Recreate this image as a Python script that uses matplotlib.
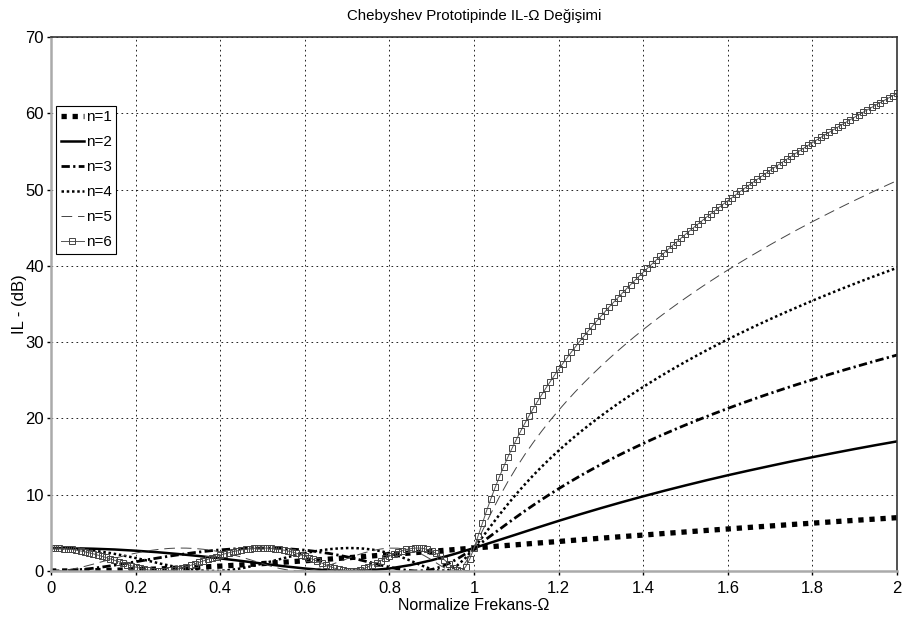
import numpy as np
import matplotlib
matplotlib.use("Agg")
import matplotlib.pyplot as plt
from matplotlib.ticker import FormatStrFormatter, MultipleLocator

# insertion loss (dB) of the Chebyshev prototype, 3 dB ripple, n = 1..6
omega_coarse = np.linspace(0, 2, 41)    # step 0.05 (n=1, n=2)
omega_mid = np.linspace(0, 2, 101)      # step 0.02 (n=3..5)
omega_fine = np.linspace(0, 2, 201)     # step 0.01 (n=6, marked)

il_n1 = [0.00, 0.01, 0.04, 0.10, 0.17, 0.26, 0.37, 0.50, 0.64, 0.80,
         0.97, 1.15, 1.34, 1.53, 1.73, 1.94, 2.15, 2.36, 2.58, 2.79,
         3.01, 3.23, 3.44, 3.66, 3.87, 4.09, 4.30, 4.51, 4.71, 4.92,
         5.12, 5.32, 5.51, 5.71, 5.90, 6.09, 6.27, 6.46, 6.64, 6.81,
         6.99]

il_n2 = [3.01, 2.99, 2.92, 2.82, 2.66, 2.47, 2.23, 1.96, 1.65, 1.32,
         0.97, 0.63, 0.33, 0.10, 0.00, 0.07, 0.33, 0.78, 1.41, 2.17,
         3.01, 3.90, 4.79, 5.69, 6.57, 7.42, 8.24, 9.03, 9.79, 10.52,
         11.22, 11.90, 12.55, 13.17, 13.77, 14.36, 14.92, 15.46, 15.99, 16.50,
         16.99]

il_n3 = [0.00, 0.02, 0.06, 0.14, 0.24, 0.36, 0.51, 0.67, 0.85, 1.03,
         1.21, 1.40, 1.59, 1.77, 1.95, 2.11, 2.27, 2.42, 2.55, 2.67,
         2.77, 2.85, 2.92, 2.97, 3.00, 3.01, 3.00, 2.97, 2.91, 2.83,
         2.73, 2.61, 2.45, 2.28, 2.07, 1.85, 1.60, 1.33, 1.05, 0.77,
         0.51, 0.27, 0.10, 0.01, 0.03, 0.20, 0.51, 0.98, 1.57, 2.25,
         3.01,
         3.81, 4.63, 5.45, 6.27, 7.07, 7.86, 8.62, 9.36, 10.08, 10.78,
         11.46, 12.11, 12.75, 13.36, 13.96, 14.54, 15.11, 15.66, 16.19, 16.71,
         17.22, 17.72, 18.20, 18.68, 19.14, 19.59, 20.03, 20.47, 20.89, 21.31,
         21.72, 22.12, 22.51, 22.90, 23.28, 23.65, 24.02, 24.38, 24.73, 25.08,
         25.43, 25.77, 26.10, 26.43, 26.75, 27.07, 27.39, 27.70, 28.00, 28.31]

il_n4 = [3.01, 3.00, 2.98, 2.89, 2.79, 2.67, 2.52, 2.35, 2.15, 1.93,
         1.70, 1.46, 1.21, 0.95, 0.71, 0.49, 0.29, 0.14, 0.04, 0.00,
         0.02, 0.11, 0.26, 0.46, 0.70, 0.97, 1.25, 1.54, 1.82, 2.09,
         2.33, 2.55, 2.73, 2.87, 2.96, 3.01, 3.00, 2.93, 2.80, 2.60,
         2.33, 1.99, 1.58, 1.11, 0.64, 0.23, 0.01, 0.13, 0.71, 1.71,
         3.01,
         4.45, 5.92, 7.37, 8.76, 10.09, 11.34, 12.54, 13.67, 14.75, 15.78,
         16.76, 17.71, 18.61, 19.48, 20.32, 21.13, 21.92, 22.68, 23.41, 24.13,
         24.82, 25.50, 26.16, 26.80, 27.43, 28.04, 28.64, 29.23, 29.80, 30.36,
         30.91, 31.45, 31.98, 32.50, 33.01, 33.51, 34.00, 34.48, 34.96, 35.43,
         35.89, 36.34, 36.79, 37.23, 37.66, 38.09, 38.51, 38.92, 39.33, 39.74]

il_n5 = [0.00, 0.04, 0.17, 0.36, 0.61, 0.90, 1.21, 1.51, 1.81, 2.09,
         2.34, 2.56, 2.73, 2.87, 2.96, 3.01, 3.00, 2.95, 2.85, 2.70,
         2.51, 2.26, 1.98, 1.66, 1.32, 0.97, 0.63, 0.34, 0.12, 0.01,
         0.02, 0.17, 0.44, 0.79, 1.19, 1.61, 2.02, 2.38, 2.67, 2.89,
         3.00, 2.99, 2.85, 2.55, 2.09, 1.46, 0.73, 0.12, 0.10, 1.11,
         3.01,
         5.28, 7.56, 9.71, 11.70, 13.54, 15.25, 16.84, 18.33, 19.73, 21.06,
         22.32, 23.53, 24.68, 25.78, 26.84, 27.87, 28.86, 29.81, 30.74, 31.64,
         32.51, 33.36, 34.19, 34.99, 35.78, 36.55, 37.30, 38.03, 38.75, 39.45,
         40.14, 40.81, 41.47, 42.12, 42.76, 43.39, 44.00, 44.61, 45.20, 45.79,
         46.36, 46.93, 47.49, 48.04, 48.58, 49.11, 49.64, 50.16, 50.67, 51.17]

il_n6 = [3.01, 3.00, 2.98, 2.94, 2.89, 2.82, 2.73, 2.63, 2.52, 2.39,
         2.25, 2.10, 1.94, 1.77, 1.59, 1.41, 1.22, 1.04, 0.85, 0.68,
         0.51, 0.37, 0.24, 0.13, 0.06, 0.01, 0.00, 0.02, 0.07, 0.16,
         0.27, 0.41, 0.57, 0.74, 0.93, 1.12, 1.32, 1.52, 1.71, 1.90,
         2.07, 2.24, 2.39, 2.53, 2.65, 2.76, 2.85, 2.92, 2.97, 3.00,
         3.01, 3.00, 2.97, 2.91, 2.84, 2.74, 2.62, 2.49, 2.33, 2.15,
         1.95, 1.73, 1.51, 1.27, 1.03, 0.80, 0.58, 0.38, 0.21, 0.09,
         0.02, 0.00, 0.05, 0.16, 0.33, 0.55, 0.80, 1.08, 1.37, 1.66,
         1.95, 2.21, 2.45, 2.65, 2.82, 2.93, 3.00, 3.01, 2.95, 2.82,
         2.61, 2.31, 1.93, 1.47, 0.95, 0.44, 0.07, 0.04, 0.53, 1.57,
         3.01,
         4.64, 6.30, 7.93, 9.48, 10.95, 12.34, 13.66, 14.91, 16.09, 17.22,
         18.30, 19.34, 20.33, 21.29, 22.22, 23.11, 23.98, 24.82, 25.64, 26.43,
         27.20, 27.95, 28.69, 29.41, 30.11, 30.80, 31.47, 32.13, 32.77, 33.40,
         34.03, 34.64, 35.23, 35.82, 36.40, 36.97, 37.53, 38.09, 38.63, 39.16,
         39.69, 40.21, 40.73, 41.23, 41.73, 42.23, 42.71, 43.19, 43.67, 44.14,
         44.60, 45.06, 45.51, 45.96, 46.40, 46.84, 47.27, 47.70, 48.12, 48.54,
         48.96, 49.37, 49.78, 50.18, 50.58, 50.97, 51.36, 51.75, 52.14, 52.52,
         52.89, 53.27, 53.64, 54.01, 54.37, 54.73, 55.09, 55.45, 55.80, 56.15,
         56.50, 56.84, 57.18, 57.52, 57.86, 58.19, 58.52, 58.85, 59.17, 59.50,
         59.82, 60.14, 60.46, 60.77, 61.08, 61.39, 61.70, 62.01, 62.31, 62.61]

plt.rcParams['font.family'] = ['Liberation Sans', 'DejaVu Sans']

fig = plt.figure(figsize=(9.02, 6.18), dpi=100)
ax = fig.add_axes([51 / 902, 47 / 618, 846 / 902, 534 / 618])

ax.plot(omega_coarse, il_n1, color='k', lw=3.8, dashes=(1, 1.1),
        dash_capstyle='butt', label='n=1')
ax.plot(omega_coarse, il_n2, color='k', lw=1.8, label='n=2')
ax.plot(omega_mid, il_n3, color='k', lw=2.0, dashes=(3, 1.2, 0.8, 1.2),
        label='n=3')
ax.plot(omega_mid, il_n4, color='k', lw=1.8, dashes=(1, 1.1), label='n=4')
ax.plot(omega_mid, il_n5, color='#444444', lw=0.7, dashes=(11, 6),
        label='n=5')
ax.plot(omega_fine, il_n6, color='#555555', lw=0.7, marker='s', ms=4.5,
        mfc='none', mec='#444444', mew=0.7, label='n=6')

ax.set_xlim(0, 2)
ax.set_ylim(0, 70)
ax.xaxis.set_major_locator(MultipleLocator(0.2))
ax.xaxis.set_major_formatter(FormatStrFormatter('%g'))
ax.yaxis.set_major_locator(MultipleLocator(10))

ax.set_axisbelow(True)
ax.grid(True, color='k', linestyle=(0, (2, 4)), lw=0.6)

for s in ('left', 'bottom'):
    ax.spines[s].set_color('#aaaaaa')
    ax.spines[s].set_linewidth(1.8)
for s in ('top', 'right'):
    ax.spines[s].set_color('#333333')
    ax.spines[s].set_linewidth(1.2)
ax.tick_params(direction='out', length=3, width=1, labelsize=12)
ax.tick_params(axis='x', pad=4)
ax.tick_params(axis='y', pad=2)

ax.set_title('Chebyshev Prototipinde IL-\u03a9 De\u011fi\u015fimi', fontsize=10.8, pad=12)
ax.set_xlabel('Normalize Frekans-\u03a9', fontsize=11.5, labelpad=2)
ax.set_ylabel('IL - (dB)', fontsize=12, labelpad=-1)

leg = ax.legend(loc='upper left', bbox_to_anchor=(0.006, 0.871), fontsize=11,
                handlelength=1.5, handletextpad=0.15, labelspacing=0.72,
                borderpad=0.3, borderaxespad=0, fancybox=False,
                edgecolor='k', framealpha=1)
leg.get_frame().set_linewidth(0.8)

fig.savefig('out.png', dpi=100)
